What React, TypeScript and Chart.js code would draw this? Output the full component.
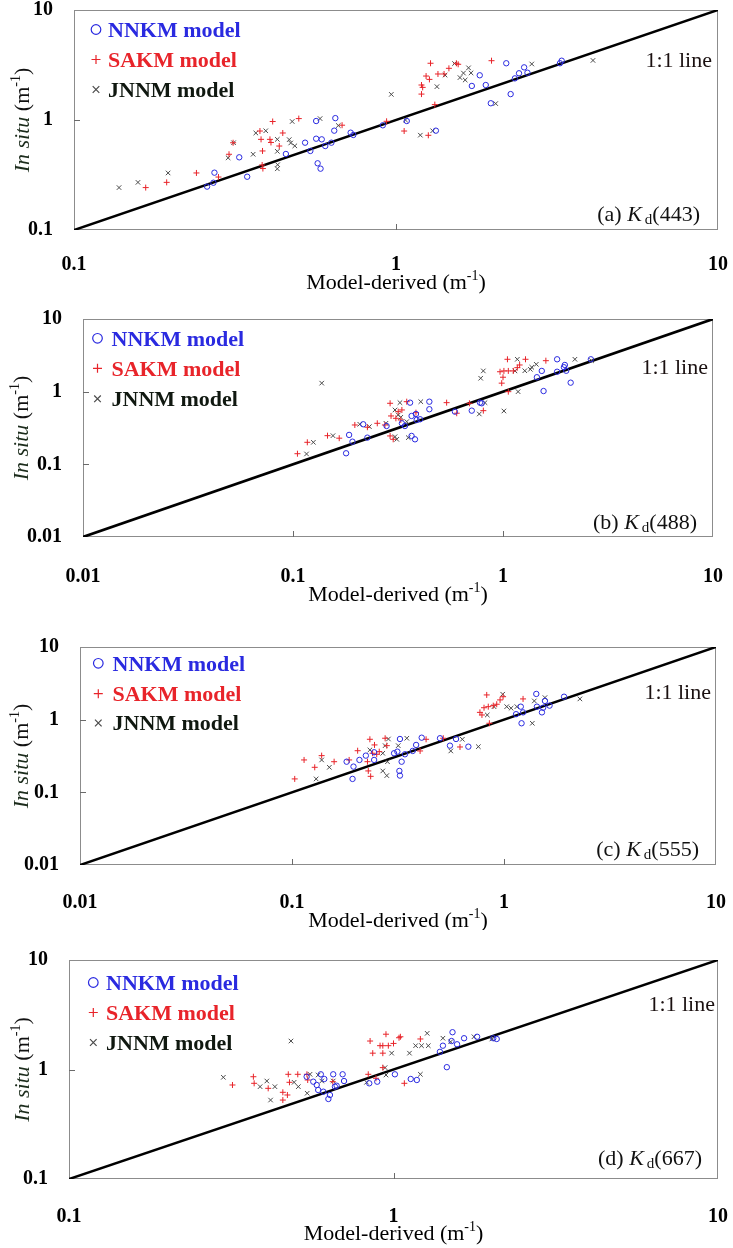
import React, { useEffect, useRef } from 'react';
import { Chart, registerables } from 'chart.js';

Chart.register(...registerables);

type Pt = [number, number];

// ---------- tick values ----------
const TICKS_01_10: number[] = [0.1, 1, 10];
const TICKS_001_10: number[] = [0.01, 0.1, 1, 10];

// ---------- series labels ----------
const SERIES_LABELS: string[] = ['NNKM model', 'SAKM model', 'JNNM model'];

// ---------- panel (a) Kd(443) ----------
const A_NNKM: Pt[] = [
  [0.259, 0.248], [0.271, 0.269], [0.273, 0.332], [0.326, 0.458], [0.345, 0.305], [0.455, 0.491],
  [0.522, 0.622], [0.542, 0.523], [0.565, 0.676], [0.588, 0.667], [0.565, 0.979], [0.648, 1.04],
  [0.643, 0.8], [0.571, 0.404], [0.583, 0.361], [0.603, 0.58], [0.63, 0.622], [0.723, 0.767],
  [0.737, 0.731], [0.91, 0.895], [1.08, 0.979], [1.33, 0.8], [1.72, 2.04], [1.82, 2.55],
  [1.9, 2.08], [1.97, 1.42], [2.2, 3.28], [2.27, 1.72], [2.34, 2.39], [2.41, 2.66],
  [2.5, 3.01], [2.56, 2.69], [3.27, 3.46], [3.23, 3.28],
];
const A_SAKM: Pt[] = [
  [0.167, 0.243], [0.194, 0.271], [0.24, 0.33], [0.281, 0.303], [0.303, 0.488], [0.312, 0.621],
  [0.378, 0.794], [0.381, 0.667], [0.385, 0.523], [0.384, 0.39], [0.386, 0.362], [0.414, 0.969],
  [0.406, 0.667], [0.409, 0.625], [0.445, 0.762], [0.434, 0.58], [0.499, 1.03], [0.68, 0.897],
  [0.935, 0.973], [1.06, 0.794], [1.26, 0.726], [1.32, 1.38], [1.2, 1.72], [1.21, 1.98],
  [1.2, 2.08], [1.24, 2.51], [1.27, 2.34], [1.28, 3.28], [1.35, 2.62], [1.41, 2.62],
  [1.46, 2.95], [1.54, 3.28], [1.56, 3.21], [1.98, 3.46],
];
const A_JNNM: Pt[] = [
  [0.138, 0.243], [0.158, 0.271], [0.196, 0.33], [0.301, 0.453], [0.313, 0.621], [0.36, 0.488],
  [0.367, 0.762], [0.394, 0.798], [0.428, 0.667], [0.428, 0.519], [0.429, 0.392], [0.428, 0.36],
  [0.466, 0.663], [0.471, 0.618], [0.485, 0.582], [0.476, 0.969], [0.581, 1.03], [0.662, 0.891],
  [0.967, 1.71], [1.07, 1.0], [1.19, 0.728], [1.3, 0.798], [1.34, 2.01], [1.42, 2.56],
  [1.52, 3.26], [1.58, 2.43], [1.62, 2.67], [1.68, 2.98], [1.71, 2.68], [1.64, 2.31],
  [2.04, 1.41], [2.64, 3.23], [4.09, 3.48],
];
const A_LINE: Pt[] = [[0.1, 0.1], [10, 10]];

// ---------- panel (b) Kd(488) ----------
const B_NNKM: Pt[] = [
  [0.179, 0.142], [0.185, 0.254], [0.192, 0.205], [0.216, 0.356], [0.226, 0.233], [0.279, 0.337],
  [0.33, 0.367], [0.341, 0.337], [0.361, 0.706], [0.367, 0.463], [0.367, 0.246], [0.381, 0.221],
  [0.388, 0.408], [0.403, 0.417], [0.385, 0.493], [0.446, 0.728], [0.446, 0.573], [0.59, 0.531],
  [0.71, 0.548], [0.777, 0.706], [0.792, 0.692], [1.45, 1.58], [1.53, 1.93], [1.56, 1.02],
  [1.81, 2.79], [1.97, 2.33], [1.81, 1.88], [2.0, 1.94], [1.95, 2.17], [2.1, 1.33], [2.62, 2.79],
];
const B_SAKM: Pt[] = [
  [0.105, 0.14], [0.117, 0.201], [0.146, 0.248], [0.166, 0.229], [0.197, 0.348], [0.226, 0.324],
  [0.252, 0.367], [0.274, 0.348], [0.29, 0.692], [0.348, 0.728], [0.293, 0.463], [0.309, 0.43],
  [0.317, 0.531], [0.33, 0.56], [0.326, 0.408], [0.29, 0.246], [0.3, 0.221], [0.385, 0.514],
  [0.539, 0.706], [0.602, 0.505], [0.692, 0.692], [0.806, 0.548], [0.968, 1.88], [0.986, 1.31],
  [1.0, 1.58], [1.01, 1.93], [1.05, 2.79], [1.06, 1.93], [1.06, 1.0], [1.12, 1.93],
  [1.17, 2.14], [1.2, 2.33], [1.28, 2.79], [1.6, 2.67],
];
const B_JNNM: Pt[] = [
  [0.116, 0.139], [0.125, 0.201], [0.137, 1.31], [0.155, 0.248], [0.208, 0.356], [0.231, 0.33],
  [0.277, 0.367], [0.306, 0.56], [0.323, 0.706], [0.317, 0.478], [0.326, 0.444], [0.348, 0.387],
  [0.306, 0.24], [0.312, 0.221], [0.354, 0.233], [0.406, 0.728], [0.771, 0.493], [0.821, 0.706],
  [1.01, 0.542], [0.806, 1.93], [0.783, 1.53], [1.17, 2.79], [1.14, 1.93], [1.27, 1.94],
  [1.35, 2.03], [1.37, 2.17], [1.44, 2.38], [1.18, 1.0], [2.2, 2.79], [2.64, 2.67],
];
const B_LINE: Pt[] = [[0.01, 0.01], [10, 10]];

// ---------- panel (c) Kd(555) ----------
const C_NNKM: Pt[] = [
  [0.181, 0.264], [0.195, 0.226], [0.193, 0.153], [0.208, 0.279], [0.223, 0.32], [0.244, 0.279],
  [0.244, 0.356], [0.303, 0.345], [0.314, 0.363], [0.323, 0.542], [0.329, 0.264], [0.321, 0.197],
  [0.323, 0.17], [0.341, 0.334], [0.371, 0.371], [0.385, 0.449], [0.409, 0.565], [0.499, 0.555],
  [0.556, 0.439], [0.594, 0.542], [0.679, 0.425], [1.2, 1.51], [1.14, 1.19], [1.21, 0.892],
  [1.23, 1.26], [1.42, 2.26], [1.43, 1.51], [1.51, 1.26], [1.53, 1.46], [1.56, 1.81],
  [1.64, 1.56], [1.92, 2.07],
];
const C_SAKM: Pt[] = [
  [0.103, 0.153], [0.114, 0.279], [0.128, 0.221], [0.138, 0.32], [0.158, 0.264], [0.186, 0.279],
  [0.204, 0.374], [0.233, 0.537], [0.245, 0.449], [0.227, 0.264], [0.229, 0.197], [0.235, 0.166],
  [0.24, 0.345], [0.251, 0.334], [0.258, 0.363], [0.275, 0.555], [0.28, 0.439], [0.429, 0.537],
  [0.402, 0.371], [0.62, 0.421], [0.517, 0.555], [0.77, 1.26], [0.787, 1.16], [0.805, 1.46],
  [0.829, 2.19], [0.853, 0.892], [0.843, 1.51], [0.89, 1.56], [0.924, 1.63], [0.958, 1.87],
  [0.99, 2.07], [1.23, 1.93],
];
const C_JNNM: Pt[] = [
  [0.13, 0.153], [0.138, 0.279], [0.15, 0.221], [0.233, 0.383], [0.268, 0.345], [0.275, 0.439],
  [0.285, 0.542], [0.317, 0.439], [0.348, 0.555], [0.282, 0.264], [0.268, 0.197], [0.28, 0.17],
  [0.561, 0.371], [0.636, 0.537], [0.757, 0.425], [0.834, 1.16], [0.986, 2.24], [0.897, 1.51],
  [1.03, 1.51], [1.08, 1.44], [1.15, 1.51], [1.36, 0.892], [1.39, 1.81], [1.56, 2.01], [2.28, 1.93],
];
const C_LINE: Pt[] = [[0.01, 0.01], [10, 10]];

// ---------- panel (d) Kd(667) ----------
const D_NNKM: Pt[] = [
  [0.54, 0.859], [0.566, 0.774], [0.58, 0.722], [0.597, 0.904], [0.612, 0.819], [0.637, 0.585],
  [0.63, 0.538], [0.652, 0.904], [0.697, 0.904], [0.704, 0.785], [0.66, 0.697], [0.668, 0.711],
  [0.586, 0.65], [0.608, 0.627], [0.842, 0.748], [0.891, 0.774], [1.01, 0.904], [1.13, 0.819],
  [1.18, 0.802], [1.39, 1.45], [1.42, 1.65], [1.46, 1.05], [1.52, 2.19], [1.51, 1.82],
  [1.57, 1.7], [1.65, 1.93], [1.81, 1.99], [2.03, 1.93], [2.08, 1.9],
];
const D_SAKM: Pt[] = [
  [0.319, 0.722], [0.37, 0.859], [0.372, 0.748], [0.411, 0.673], [0.456, 0.619], [0.471, 0.585],
  [0.456, 0.526], [0.474, 0.904], [0.478, 0.764], [0.507, 0.904], [0.541, 0.904], [0.544, 0.802],
  [0.65, 0.774], [0.836, 0.904], [0.883, 0.831], [0.927, 1.04], [0.847, 1.82], [0.948, 2.1],
  [0.909, 1.65], [0.927, 1.65], [0.964, 1.65], [1.0, 1.73], [1.04, 1.95], [1.05, 1.99],
  [0.863, 1.41], [0.927, 1.41], [1.21, 1.9], [1.08, 0.748],
];
const D_JNNM: Pt[] = [
  [0.299, 0.849], [0.483, 1.82], [0.388, 0.697], [0.407, 0.785], [0.418, 0.526], [0.431, 0.697],
  [0.509, 0.697], [0.494, 0.764], [0.553, 0.904], [0.542, 0.607], [0.586, 0.891], [0.601, 0.785],
  [0.652, 0.785], [0.826, 0.764], [0.942, 1.04], [0.948, 0.891], [0.987, 1.41], [1.12, 1.41],
  [1.17, 1.65], [1.22, 1.65], [1.28, 1.65], [1.27, 2.14], [1.21, 0.904], [1.42, 1.93],
  [1.5, 1.79], [1.77, 1.99], [2.01, 1.9],
];
const D_LINE: Pt[] = [[0.1, 0.1], [10, 10]];

// ---------- panel captions ----------
const PANEL_LETTERS: string[] = ['(a)', '(b)', '(c)', '(d)'];
const PANEL_BANDS: string[] = ['(443)', '(488)', '(555)', '(667)'];

// ---------- styling / layout ----------
const FONT = '"Liberation Serif", "Times New Roman", serif';
const BLUE = '#2a2ae0';
const RED = '#e8242a';
const GREY = '#4a4a4a';
const W = 733;

interface PanelCfg {
  top: number;
  height: number;
  area: { left: number; right: number; top: number; bottom: number };
  xTicks: number[];
  yTicks: number[];
  nnkm: Pt[];
  sakm: Pt[];
  jnnm: Pt[];
  line: Pt[];
  letter: string;
  band: string;
  legend: { markerDx: number; textDx: number; rowDy: number[] };
  oneToOne: { dxRight: number; dy: number };
  tag: { dxRight: number; dyBottom: number };
  xTickDy: number;
  xTitleDy: number;
  yTitleX: number;
}

const PANELS: PanelCfg[] = [
  {
    top: 0, height: 300, area: { left: 74, right: 718, top: 10, bottom: 230 },
    xTicks: TICKS_01_10, yTicks: TICKS_01_10,
    nnkm: A_NNKM, sakm: A_SAKM, jnnm: A_JNNM, line: A_LINE,
    letter: PANEL_LETTERS[0], band: PANEL_BANDS[0],
    legend: { markerDx: 22, textDx: 34, rowDy: [19.5, 49.5, 79.5] },
    oneToOne: { dxRight: -6, dy: 49.5 }, tag: { dxRight: -18, dyBottom: -16.5 },
    xTickDy: 35, xTitleDy: 52, yTitleX: 22,
  },
  {
    top: 300, height: 315, area: { left: 83, right: 713, top: 319, bottom: 537 },
    xTicks: TICKS_001_10, yTicks: TICKS_001_10,
    nnkm: B_NNKM, sakm: B_SAKM, jnnm: B_JNNM, line: B_LINE,
    letter: PANEL_LETTERS[1], band: PANEL_BANDS[1],
    legend: { markerDx: 14.5, textDx: 28.5, rowDy: [19.3, 49.3, 79.8] },
    oneToOne: { dxRight: -5, dy: 48 }, tag: { dxRight: -16, dyBottom: -15.5 },
    xTickDy: 40, xTitleDy: 57, yTitleX: 21,
  },
  {
    top: 615, height: 315, area: { left: 80, right: 716, top: 647, bottom: 865 },
    xTicks: TICKS_001_10, yTicks: TICKS_001_10,
    nnkm: C_NNKM, sakm: C_SAKM, jnnm: C_JNNM, line: C_LINE,
    letter: PANEL_LETTERS[2], band: PANEL_BANDS[2],
    legend: { markerDx: 18.3, textDx: 32.5, rowDy: [16.3, 46.7, 76] },
    oneToOne: { dxRight: -5, dy: 45 }, tag: { dxRight: -17, dyBottom: -16 },
    xTickDy: 38, xTitleDy: 55, yTitleX: 21,
  },
  {
    top: 930, height: 318, area: { left: 69, right: 718, top: 960, bottom: 1179 },
    xTicks: TICKS_01_10, yTicks: TICKS_01_10,
    nnkm: D_NNKM, sakm: D_SAKM, jnnm: D_JNNM, line: D_LINE,
    letter: PANEL_LETTERS[3], band: PANEL_BANDS[3],
    legend: { markerDx: 24.3, textDx: 37, rowDy: [22.5, 52.5, 82.5] },
    oneToOne: { dxRight: -3, dy: 44 }, tag: { dxRight: -16, dyBottom: -21 },
    xTickDy: 38, xTitleDy: 54, yTitleX: 22,
  },
];

type Run = { text: string; size: number; style?: string; weight?: string; dy?: number; gap?: number; color?: string };

function fontOf(r: Run) {
  return `${r.style || 'normal'} ${r.weight || 'normal'} ${r.size}px ${FONT}`;
}

function drawRuns(ctx: CanvasRenderingContext2D, runs: Run[], x: number, y: number, align: 'left' | 'right' | 'center', color: string) {
  ctx.save();
  ctx.textBaseline = 'alphabetic';
  ctx.textAlign = 'left';
  const widths = runs.map((r) => {
    ctx.font = fontOf(r);
    return ctx.measureText(r.text).width + (r.gap || 0);
  });
  const total = widths.reduce((a, b) => a + b, 0);
  let cx = align === 'left' ? x : align === 'right' ? x - total : x - total / 2;
  runs.forEach((r, i) => {
    ctx.font = fontOf(r);
    ctx.fillStyle = r.color || color;
    ctx.fillText(r.text, cx + (r.gap || 0), y + (r.dy || 0));
    cx += widths[i];
  });
  ctx.restore();
}

const CAP = 7.3; // half cap height of 22px serif

function makeDecor(cfg: PanelCfg) {
  return {
    id: 'decor',
    beforeDatasetsDraw(chart: any) {
      const { ctx, chartArea: a } = chart;
      ctx.save();
      ctx.strokeStyle = '#8c8c8c';
      ctx.lineWidth = 1;
      ctx.strokeRect(a.left + 0.5, a.top + 0.5, a.right - a.left - 1, a.bottom - a.top - 1);
      // inward tick marks
      const xs = chart.scales.x;
      const ys = chart.scales.y;
      ctx.strokeStyle = '#6a6a6a';
      ctx.beginPath();
      cfg.xTicks.slice(1, -1).forEach((v) => {
        const px = Math.round(xs.getPixelForValue(v)) + 0.5;
        ctx.moveTo(px, a.bottom);
        ctx.lineTo(px, a.bottom - 6);
      });
      cfg.yTicks.slice(1, -1).forEach((v) => {
        const py = Math.round(ys.getPixelForValue(v)) + 0.5;
        ctx.moveTo(a.left, py);
        ctx.lineTo(a.left + 6, py);
      });
      ctx.stroke();
      ctx.restore();
    },
    afterDraw(chart: any) {
      const { ctx, chartArea: a } = chart;
      // legend
      const colors = [BLUE, RED, '#101810'];
      const markColors = [BLUE, RED, GREY];
      SERIES_LABELS.forEach((label, i) => {
        const cy = a.top + cfg.legend.rowDy[i];
        const mx = a.left + cfg.legend.markerDx;
        ctx.save();
        ctx.strokeStyle = markColors[i];
        ctx.lineWidth = 1.2;
        ctx.beginPath();
        if (i === 0) {
          ctx.arc(mx, cy, 4.8, 0, Math.PI * 2);
        } else if (i === 1) {
          ctx.moveTo(mx - 4.5, cy); ctx.lineTo(mx + 4.5, cy);
          ctx.moveTo(mx, cy - 4.5); ctx.lineTo(mx, cy + 4.5);
        } else {
          ctx.moveTo(mx - 3.3, cy - 3.3); ctx.lineTo(mx + 3.3, cy + 3.3);
          ctx.moveTo(mx + 3.3, cy - 3.3); ctx.lineTo(mx - 3.3, cy + 3.3);
        }
        ctx.stroke();
        ctx.restore();
        drawRuns(ctx, [{ text: label, size: 22, weight: 'bold' }], a.left + cfg.legend.textDx, cy + CAP, 'left', colors[i]);
      });
      // 1:1 line label
      drawRuns(ctx, [{ text: '1:1 line', size: 22 }], a.right + cfg.oneToOne.dxRight, a.top + cfg.oneToOne.dy + CAP, 'right', '#1a1010');
      // panel tag
      drawRuns(ctx, [
        { text: cfg.letter + ' ', size: 22 },
        { text: 'K', size: 22, style: 'italic' },
        { text: 'd', size: 15, dy: 3, gap: 3 },
        { text: cfg.band, size: 22 },
      ], a.right + cfg.tag.dxRight, a.bottom + cfg.tag.dyBottom + CAP, 'right', '#111');
      // x title
      drawRuns(ctx, [
        { text: 'Model-derived (m', size: 22 },
        { text: '-1', size: 14, dy: -9 },
        { text: ')', size: 22 },
      ], (a.left + a.right) / 2, a.bottom + cfg.xTitleDy + CAP, 'center', '#000');
      // y title (rotated)
      ctx.save();
      ctx.translate(cfg.yTitleX, (a.top + a.bottom) / 2);
      ctx.rotate(-Math.PI / 2);
      drawRuns(ctx, [
        { text: 'In situ', size: 22, style: 'italic', color: '#1c2c1c' },
        { text: ' (m', size: 22 },
        { text: '-1', size: 14, dy: -9 },
        { text: ')', size: 22 },
      ], 0, CAP, 'center', '#111');
      ctx.restore();
    },
  };
}

const toXY = (pts: Pt[]) => pts.map(([x, y]) => ({ x, y }));

function Panel({ cfg }: { cfg: PanelCfg }) {
  const ref = useRef<HTMLCanvasElement | null>(null);
  useEffect(() => {
    if (!ref.current) return;
    const a = cfg.area;
    const tickFont = { family: FONT, size: 20, weight: 'bold' as const };
    const chart = new Chart(ref.current, {
      type: 'scatter',
      data: {
        datasets: [
          {
            label: SERIES_LABELS[0], data: toXY(cfg.nnkm), pointStyle: 'circle', pointRadius: 2.7,
            borderColor: BLUE, backgroundColor: 'rgba(0,0,0,0)', borderWidth: 1, order: 1,
          },
          {
            label: SERIES_LABELS[1], data: toXY(cfg.sakm), pointStyle: 'cross', pointRadius: 3,
            borderColor: RED, backgroundColor: RED, borderWidth: 1, order: 2,
          },
          {
            label: SERIES_LABELS[2], data: toXY(cfg.jnnm), pointStyle: 'crossRot', pointRadius: 3.2,
            borderColor: GREY, backgroundColor: GREY, borderWidth: 1, order: 3,
          },
          {
            label: '1:1 line', data: toXY(cfg.line), showLine: true, pointRadius: 0,
            borderColor: '#000', borderWidth: 2.6, fill: false, order: 10,
          } as any,
        ],
      },
      options: {
        responsive: false,
        animation: false,
        devicePixelRatio: 1,
        events: [],
        layout: { padding: { left: 0, top: a.top - cfg.top, right: W - a.right, bottom: 0 } },
        plugins: { legend: { display: false }, tooltip: { enabled: false } },
        scales: {
          x: {
            type: 'logarithmic',
            position: 'bottom',
            min: cfg.xTicks[0],
            max: cfg.xTicks[cfg.xTicks.length - 1],
            grid: { display: false, drawTicks: false },
            border: { display: false },
            ticks: {
              autoSkip: false, maxRotation: 0, minRotation: 0, padding: cfg.xTickDy - 12,
              font: tickFont, color: '#000', callback: (v: any) => String(v),
            },
            afterBuildTicks: (s: any) => { s.ticks = cfg.xTicks.map((v) => ({ value: v })); },
            afterFit: (s: any) => {
              s.height = cfg.top + cfg.height - a.bottom;
              s.paddingLeft = 0; s.paddingRight = 0;
            },
          },
          y: {
            type: 'logarithmic',
            position: 'left',
            min: cfg.yTicks[0],
            max: cfg.yTicks[cfg.yTicks.length - 1],
            grid: { display: false, drawTicks: false },
            border: { display: false },
            ticks: {
              autoSkip: false, padding: 21, font: tickFont, color: '#000', callback: (v: any) => String(v),
            },
            afterBuildTicks: (s: any) => { s.ticks = cfg.yTicks.map((v) => ({ value: v })); },
            afterFit: (s: any) => {
              s.width = a.left;
              s.paddingTop = 0; s.paddingBottom = 0;
            },
          },
        } as any,
      },
      plugins: [makeDecor(cfg)],
    });
    return () => chart.destroy();
  }, [cfg]);
  return (
    <canvas
      ref={ref}
      width={W}
      height={cfg.height}
      style={{ position: 'absolute', left: 0, top: cfg.top, width: W, height: cfg.height, display: 'block' }}
    />
  );
}

export default function App() {
  return (
    <div style={{ position: 'absolute', left: 0, top: 0, width: W, height: 1248, background: '#fff', overflow: 'hidden' }}>
      {PANELS.map((p, i) => (
        <Panel key={i} cfg={p} />
      ))}
    </div>
  );
}
